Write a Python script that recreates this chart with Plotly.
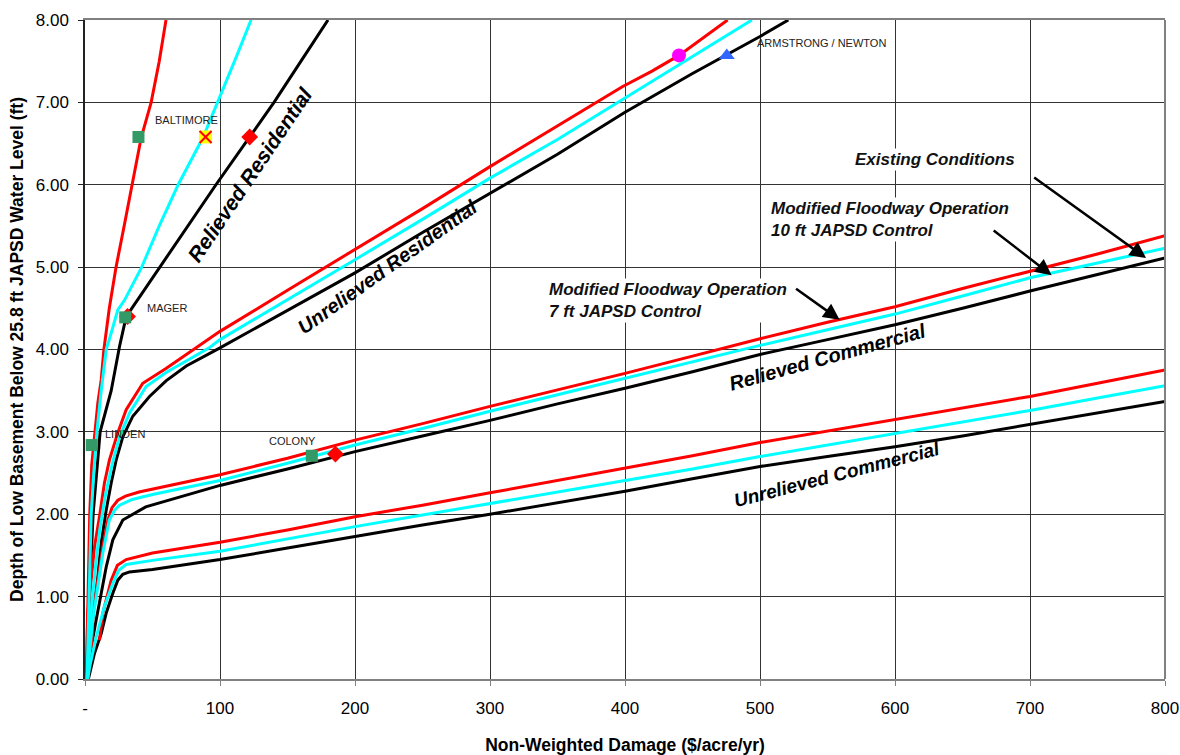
import plotly.graph_objects as go

# ---- Relieved Residential ----
rr_red_x = [1.0, 2.0, 3.5, 5.0, 7.5, 9.5, 12.0, 14.0, 18.0, 23.0, 29.0, 35.0, 41.6, 49.0, 55.0, 60.0]
rr_red_y = [0.0, 1.0, 2.0, 2.6, 3.0, 3.35, 3.63, 4.0, 4.5, 5.0, 5.5, 6.0, 6.57, 7.0, 7.5, 8.0]
rr_cyan_x = [1.5, 2.8, 4.6, 6.5, 8.8, 12.0, 15.7, 19.4, 24.3, 29.3, 42.0, 55.0, 69.0, 87.3, 98.4, 112.0, 123.0]
rr_cyan_y = [0.0, 1.0, 2.0, 2.5, 3.0, 3.5, 4.0, 4.2, 4.48, 4.6, 5.0, 5.5, 6.0, 6.57, 7.0, 7.55, 8.0]
rr_black_x = [1.3, 3.3, 6.0, 11.2, 19.4, 25.6, 30.5, 55.0, 97.0, 122.0, 140.0, 160.0, 180.0]
rr_black_y = [0.0, 1.0, 2.0, 3.0, 3.5, 4.04, 4.40, 4.99, 6.0, 6.58, 7.0, 7.5, 8.0]

# ---- Unrelieved Residential ----
ur_red_x = [1.0, 2.0, 4.6, 7.0, 10.7, 14.4, 18.1, 24.3, 30.5, 42.8, 60.0, 80.0, 100.0, 150.0, 200.0,
            250.0, 300.0, 356.0, 398.0, 420.0, 440.0, 476.0]
ur_red_y = [0.0, 0.8, 1.2, 1.6, 1.97, 2.38, 2.66, 2.99, 3.27, 3.59, 3.77, 4.0, 4.22, 4.72, 5.21,
            5.71, 6.22, 6.78, 7.19, 7.38, 7.57, 8.0]
ur_cyan_x = [1.5, 3.0, 5.0, 8.0, 11.0, 15.0, 20.0, 25.6, 33.0, 45.3, 60.0, 75.0, 92.0, 100.0, 150.0,
             200.0, 250.0, 300.0, 350.0, 395.0, 440.0, 494.0]
ur_cyan_y = [0.0, 0.45, 0.9, 1.4, 1.82, 2.22, 2.6, 2.94, 3.23, 3.55, 3.72, 3.86, 4.02, 4.12, 4.6,
             5.09, 5.58, 6.08, 6.55, 7.0, 7.45, 8.0]
ur_black_x = [1.5, 3.3, 5.8, 9.5, 12.0, 15.7, 19.4, 23.1, 28.0, 35.4, 47.8, 60.0, 75.0, 100.0, 150.0,
              200.0, 250.0, 300.0, 350.0, 400.0, 450.0, 500.0, 521.0]
ur_black_y = [0.0, 0.35, 0.76, 1.24, 1.65, 2.05, 2.38, 2.66, 2.94, 3.19, 3.43, 3.62, 3.80, 4.02, 4.47,
              4.93, 5.42, 5.90, 6.37, 6.88, 7.35, 7.80, 8.0]

# ---- Relieved Commercial ----
rc_red_x = [5.0, 6.0, 9.5, 13.2, 16.9, 20.0, 24.3, 30.0, 40.0, 60.0, 100.0, 150.0, 200.0, 250.0, 300.0,
            350.0, 400.0, 450.0, 500.0, 550.0, 600.0, 650.0, 700.0, 750.0, 800.0]
rc_red_y = [0.35, 0.8, 1.2, 1.61, 1.93, 2.08, 2.17, 2.22, 2.27, 2.34, 2.48, 2.68, 2.90, 3.10, 3.31,
            3.51, 3.71, 3.92, 4.13, 4.33, 4.52, 4.74, 4.95, 5.16, 5.38]
rc_cyan_x = [2.0, 3.3, 5.8, 9.5, 13.2, 18.0, 22.0, 25.6, 35.0, 50.0, 100.0, 150.0, 200.0, 250.0, 300.0,
             350.0, 400.0, 450.0, 500.0, 550.0, 600.0, 650.0, 700.0, 750.0, 800.0]
rc_cyan_y = [0.0, 0.31, 0.72, 1.12, 1.53, 1.93, 2.05, 2.11, 2.18, 2.24, 2.41, 2.62, 2.84, 3.04, 3.25,
             3.45, 3.65, 3.85, 4.05, 4.24, 4.43, 4.65, 4.87, 5.05, 5.23]
rc_black_x = [2.0, 4.6, 8.3, 12.0, 15.7, 20.6, 28.0, 45.0, 100.0, 150.0, 200.0, 250.0, 300.0, 350.0,
              400.0, 450.0, 500.0, 550.0, 600.0, 650.0, 700.0, 750.0, 800.0]
rc_black_y = [0.0, 0.39, 0.72, 1.04, 1.36, 1.69, 1.93, 2.09, 2.35, 2.55, 2.76, 2.95, 3.14, 3.34,
              3.53, 3.73, 3.94, 4.12, 4.30, 4.50, 4.71, 4.91, 5.11]

# ---- Unrelieved Commercial ----
uc_red_x = [10.7, 13.2, 19.4, 24.0, 30.5, 50.0, 100.0, 150.0, 200.0, 250.0, 300.0, 350.0, 400.0,
            450.0, 500.0, 550.0, 600.0, 650.0, 700.0, 750.0, 800.0]
uc_red_y = [0.47, 0.80, 1.2, 1.38, 1.45, 1.53, 1.66, 1.81, 1.97, 2.11, 2.26, 2.41, 2.56,
            2.71, 2.87, 3.01, 3.15, 3.29, 3.43, 3.59, 3.75]
uc_cyan_x = [2.0, 3.5, 8.3, 14.4, 20.6, 25.0, 30.5, 50.0, 100.0, 150.0, 200.0, 250.0, 300.0, 350.0,
             400.0, 450.0, 500.0, 550.0, 600.0, 650.0, 700.0, 750.0, 800.0]
uc_cyan_y = [0.0, 0.15, 0.51, 0.88, 1.16, 1.32, 1.39, 1.44, 1.55, 1.70, 1.85, 1.99, 2.13, 2.27,
             2.41, 2.55, 2.70, 2.84, 2.98, 3.12, 3.26, 3.41, 3.56]
uc_black_x = [2.5, 7.0, 12.0, 15.7, 20.6, 24.3, 28.0, 33.0, 50.0, 100.0, 150.0, 200.0, 250.0, 300.0,
              350.0, 400.0, 450.0, 500.0, 550.0, 600.0, 650.0, 700.0, 750.0, 800.0]
uc_black_y = [0.0, 0.31, 0.55, 0.80, 1.04, 1.20, 1.27, 1.30, 1.33, 1.45, 1.59, 1.73, 1.87, 2.00,
              2.14, 2.28, 2.43, 2.58, 2.70, 2.82, 2.95, 3.09, 3.23, 3.37]

# ---- Site points ----
green_sites = ["BALTIMORE", "MAGER", "LINDEN", "COLONY"]
green_x = [39.6, 29.8, 5.0, 168.0]
green_y = [6.58, 4.39, 2.84, 2.71]
red_diamond_x = [122.0, 31.5, 185.5]
red_diamond_y = [6.58, 4.40, 2.73]
yellow_x = [89.3]
yellow_y = [6.58]
magenta_x = [440.0]
magenta_y = [7.57]
blue_x = [475.4]
blue_y = [7.57]

site_label_text = ["BALTIMORE", "MAGER", "LINDEN", "COLONY", "ARMSTRONG / NEWTON"]
site_label_x = [75.0, 44.8, 13.0, 154.0, 496.0]
site_label_y = [6.79, 4.50, 2.97, 2.89, 7.72]
site_label_anchor = ["center", "left", "left", "center", "left"]

x_ticks = [0, 100, 200, 300, 400, 500, 600, 700, 800]
x_tick_text = ["-", "100", "200", "300", "400", "500", "600", "700", "800"]
y_ticks = [0, 1, 2, 3, 4, 5, 6, 7, 8]
y_tick_text = ["0.00", "1.00", "2.00", "3.00", "4.00", "5.00", "6.00", "7.00", "8.00"]

FONT = "Arial, 'Liberation Sans', sans-serif"
RED, CYAN, BLACK = "#FF0000", "#00FFFF", "#000000"

fig = go.Figure()

curves = [
    (rr_black_x, rr_black_y, BLACK), (ur_black_x, ur_black_y, BLACK),
    (rc_black_x, rc_black_y, BLACK), (uc_black_x, uc_black_y, BLACK),
    (rr_red_x, rr_red_y, RED), (ur_red_x, ur_red_y, RED),
    (rc_red_x, rc_red_y, RED), (uc_red_x, uc_red_y, RED),
    (rr_cyan_x, rr_cyan_y, CYAN), (ur_cyan_x, ur_cyan_y, CYAN),
    (rc_cyan_x, rc_cyan_y, CYAN), (uc_cyan_x, uc_cyan_y, CYAN),
]
for cx, cy, col in curves:
    fig.add_trace(go.Scatter(x=cx, y=cy, mode="lines", line=dict(color=col, width=3),
                             showlegend=False, hoverinfo="skip", cliponaxis=True))

fig.add_trace(go.Scatter(x=red_diamond_x, y=red_diamond_y, mode="markers",
                         marker=dict(symbol="diamond", size=13, color="#FF0000"), showlegend=False))
fig.add_trace(go.Scatter(x=green_x, y=green_y, mode="markers", text=green_sites,
                         marker=dict(symbol="square", size=12, color="#339966"), showlegend=False))
fig.add_trace(go.Scatter(x=yellow_x, y=yellow_y, mode="markers",
                         marker=dict(symbol="square", size=13, color="#FFFF00"), showlegend=False))
fig.add_trace(go.Scatter(x=yellow_x, y=yellow_y, mode="markers",
                         marker=dict(symbol="x-thin", size=12, line=dict(color="#FF0000", width=2)),
                         showlegend=False))
fig.add_trace(go.Scatter(x=magenta_x, y=magenta_y, mode="markers",
                         marker=dict(symbol="circle", size=14, color="#FF00FF"), showlegend=False))
fig.add_trace(go.Scatter(x=blue_x, y=blue_y, mode="markers",
                         marker=dict(symbol="triangle-up", size=14, color="#3366FF"), showlegend=False))

annotations = []
for t, lx, ly, anc in zip(site_label_text, site_label_x, site_label_y, site_label_anchor):
    annotations.append(dict(x=lx, y=ly, text=t, showarrow=False, xanchor=anc, yanchor="middle",
                            font=dict(family=FONT, size=11, color="#222222")))

# curve-group labels along the lines
group_labels = [
    ("Relieved Residential", 122.0, 6.13, -56, 21),
    ("Unrelieved Residential", 224.0, 5.0, -35.5, 20),
    ("Relieved Commercial", 550.0, 3.91, -15.5, 20),
    ("Unrelieved Commercial", 557.0, 2.48, -14.5, 19),
]
for t, lx, ly, ang, sz in group_labels:
    annotations.append(dict(x=lx, y=ly, text="<b><i>" + t + "</i></b>", showarrow=False,
                            textangle=ang, xanchor="center", yanchor="middle",
                            font=dict(family=FONT, size=sz, color="black")))

# scenario callouts
annotations.append(dict(x=629.3, y=6.31, text="<b><i>Existing Conditions</i></b>", showarrow=False,
                        xanchor="center", yanchor="middle", bgcolor="white",
                        font=dict(family=FONT, size=17, color="#111111")))
annotations.append(dict(x=506.9, y=5.58,
                        text="<b><i>Modified Floodway Operation<br>10 ft JAPSD Control</i></b>",
                        showarrow=False, xanchor="left", yanchor="middle", align="left", bgcolor="white",
                        font=dict(family=FONT, size=17, color="#111111")))
annotations.append(dict(x=341.9, y=4.59,
                        text="<b><i>Modified Floodway Operation<br>7 ft JAPSD Control</i></b>",
                        showarrow=False, xanchor="left", yanchor="middle", align="left", bgcolor="white",
                        font=dict(family=FONT, size=17, color="#111111")))

arrows = [
    ((702.0, 6.10), (786.0, 5.11)),
    ((672.0, 5.46), (716.0, 4.90)),
    ((525.6, 4.75), (559.0, 4.36)),
]
for (sx, sy), (ex, ey) in arrows:
    annotations.append(dict(x=ex, y=ey, ax=sx, ay=sy, xref="x", yref="y", axref="x", ayref="y",
                            text="", showarrow=True, arrowhead=2, arrowsize=1.3, arrowwidth=2.5,
                            arrowcolor="black"))

fig.update_layout(
    width=1180, height=755,
    margin=dict(l=85, r=15, t=20, b=76, autoexpand=False),
    paper_bgcolor="white", plot_bgcolor="white",
    font=dict(family=FONT, color="black"),
    annotations=annotations,
    shapes=[dict(type="line", xref="paper", yref="paper", x0=1, x1=1, y0=0, y1=1,
                 line=dict(color="#808080", width=2), layer="above")],
)
fig.update_xaxes(
    range=[0, 800], tickvals=x_ticks, ticktext=x_tick_text, automargin=False,
    showgrid=True, gridcolor="#333333", gridwidth=1, zeroline=False,
    showline=True, linecolor="#808080", linewidth=2, mirror=True,
    ticks="outside", ticklen=5, tickcolor="#808080", ticklabelstandoff=8,
    tickfont=dict(family=FONT, size=17, color="black"),
    title=dict(text="<b>Non-Weighted Damage ($/acre/yr)</b>", font=dict(family=FONT, size=17.5), standoff=22),
)
fig.update_yaxes(
    range=[0, 8], tickvals=y_ticks, ticktext=y_tick_text, automargin=False,
    showgrid=True, gridcolor="#333333", gridwidth=1, zeroline=False,
    showline=True, linecolor="#222222", linewidth=1.5,
    ticks="outside", ticklen=5, tickcolor="#222222", ticklabelstandoff=6,
    tickfont=dict(family=FONT, size=17, color="black"),
    title=dict(text="<b>Depth of Low Basement Below 25.8 ft JAPSD Water Level (ft)</b>",
               font=dict(family=FONT, size=17.5), standoff=8),
)

fig.write_html("out.html")
